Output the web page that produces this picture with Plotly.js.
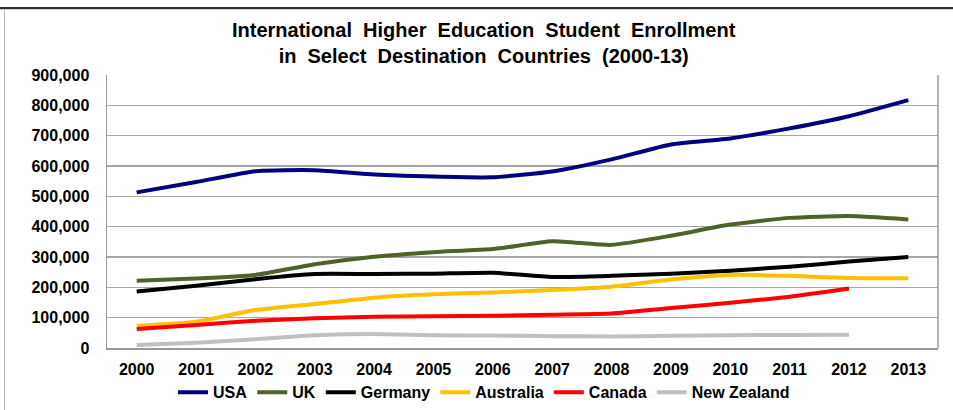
<!DOCTYPE html>
<html>
<head>
<meta charset="utf-8">
<script src="https://cdn.plot.ly/plotly-3.0.1.min.js"></script>
<style>
html,body{margin:0;padding:0;background:#fff;}
#frame{position:absolute;left:0;top:0;width:953px;height:410px;overflow:hidden;}
#topline{position:absolute;left:0;top:7px;width:953px;height:2px;background:#333;}
#topline2{position:absolute;left:0;top:9px;width:953px;height:1px;background:#ccc;}
#leftline{position:absolute;left:4px;top:9px;width:1px;height:401px;background:#bbb;}
#chart{position:absolute;left:0;top:0;width:953px;height:410px;}
</style>
</head>
<body>
<div id="frame">
<div id="chart"></div>
<div id="topline"></div>
<div id="topline2"></div>
<div id="leftline"></div>
</div>
<script>
const years = ['2000','2001','2002','2003','2004','2005','2006','2007','2008','2009','2010','2011','2012','2013'];
const usa = [513000,547000,583000,586000,572000,565000,563000,582000,622000,671000,691000,724000,764000,817000];
const uk = [222000,229000,241000,276000,301000,316000,326000,352000,340000,370000,407000,429000,435000,424000];
const germany = [186000,205000,227000,244000,244000,245000,248000,234000,238000,245000,255000,268000,285000,300000];
const australia = [73000,87000,125000,145000,166000,177000,183000,191000,202000,226000,241000,238000,231000,230000];
const canada = [63000,76000,90000,98000,103000,105000,106000,110000,114000,132000,149000,169000,196000,null];
const newZealand = [10000,17000,29000,42000,46000,42000,41000,39000,38000,40000,42000,43000,44000,null];

const seriesNames = ['USA','UK','Germany','Australia','Canada','New Zealand'];
const seriesData = [usa, uk, germany, australia, canada, newZealand];
const seriesColors = ['#000080','#4f6228','#000000','#ffc000','#ff0000','#c0c0c0'];
const titleText = '<b>International  Higher  Education  Student  Enrollment<br>in  Select  Destination  Countries  (2000-13)</b>';

const traces = seriesNames.map((n,i)=>({
  type:'scatter', mode:'lines', name:n, x:years, y:seriesData[i],
  line:{color:seriesColors[i], width:4, shape:'spline', smoothing:0.5},
  connectgaps:false
}));

const fam = '"Liberation Sans", Arial, sans-serif';
const tickFont = {family:fam, size:16, weight:'bold', color:'#000'};
const layout = {
  width:953, height:410,
  margin:{l:107, r:15, t:75, b:62, autoexpand:false},
  paper_bgcolor:'rgba(0,0,0,0)', plot_bgcolor:'#fff',
  font:{family:fam, size:13, color:'#000'},
  xaxis:{type:'category', range:[-0.5,13.5], showgrid:false, showline:true, linecolor:'#999', linewidth:1.5,
         ticks:'', ticklabelstandoff:6, tickfont:tickFont, automargin:false},
  yaxis:{range:[0,900000], dtick:100000, tickformat:',', showgrid:true, gridcolor:'#a6a6a6', gridwidth:1.5,
         showline:true, linecolor:'#999', linewidth:1.5, ticks:'', zeroline:false,
         ticklabelstandoff:13, tickfont:tickFont, automargin:false},
  showlegend:true,
  legend:{orientation:'h', x:0.4537, xanchor:'center', y:-0.1, yanchor:'top',
          font:{family:fam, size:16, weight:'bold', color:'#000'},
          itemwidth:30, tracegroupgap:0},
  annotations:[{text:titleText, xref:'paper', yref:'paper', x:0.4537, y:1.1154, xanchor:'center', yanchor:'middle',
                showarrow:false, font:{family:fam, size:20, color:'#000'}}],
  shapes:[{type:'line', xref:'paper', yref:'paper', x0:1, x1:1, y0:0, y1:1, line:{color:'#999', width:1.5}}]
};
Plotly.newPlot('chart', traces, layout, {displayModeBar:false, staticPlot:true});
</script>
</body>
</html>
